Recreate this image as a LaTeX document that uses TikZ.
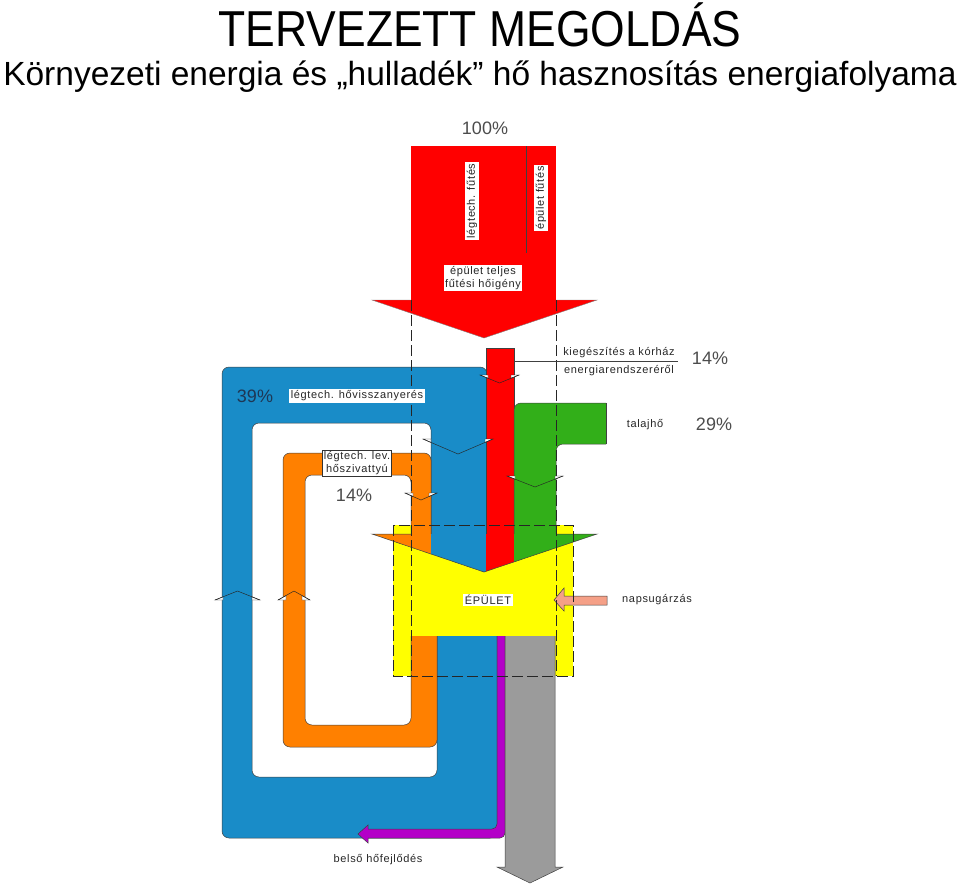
\documentclass[tikz,border=0pt]{standalone}
\usepackage{fontspec}
\setmainfont{Liberation Sans}
\newfontfamily\cadfont[LetterSpace=6.0]{Liberation Sans}
\definecolor{cblue}{RGB}{25,140,200}
\definecolor{corange}{RGB}{255,128,0}
\definecolor{cred}{RGB}{255,0,0}
\definecolor{cgreen}{RGB}{50,175,25}
\definecolor{cyel}{RGB}{255,255,0}
\definecolor{cgray}{RGB}{155,155,155}
\definecolor{cpurple}{RGB}{180,0,200}
\definecolor{csalmon}{RGB}{245,160,135}
\definecolor{cnavy}{RGB}{30,55,85}
\newcommand\chevmark[4]{%
  \pgfmathsetmacro\chxm{(#1+#2)/2}%
  \pgfmathsetmacro\chya{#3+#4*8/(\chxm-#1)}%
  \filldraw[chv, fill=white] (#1,#3) -- ({#1+8},#3) -- ({#1+8},\chya) -- cycle;
  \filldraw[chv, fill=white] (#2,#3) -- ({#2-8},#3) -- ({#2-8},\chya) -- cycle;
  \draw[chv] (#1,#3) -- (\chxm,{#3+#4}) -- (#2,#3);
}
\begin{document}
\begin{tikzpicture}[x=1pt,y=-1pt,
  band/.style={draw=black!75, line width=0.5pt},
  lbl/.style={font=\cadfont\fontsize{11}{13}\selectfont, text=black!85, inner sep=1.5pt, align=center},
  wbox/.style={lbl, fill=white},
  pct/.style={font=\fontsize{18}{18}\selectfont, text=black!70},
  dsh/.style={draw=black!85, line width=0.6pt, dash pattern=on 11pt off 4pt},
  chv/.style={draw=black!85, line width=0.45pt}]
\useasboundingbox (0,0) rectangle (960,892);

% titles
\node[font=\fontsize{50.5}{50}\selectfont, anchor=base] (title) at (480,46) {\scalebox{0.88}[1]{TERVEZETT MEGOLDÁS}};
\node[font=\fontsize{33.5}{34}\selectfont, anchor=base] (sub) at (480,85) {Környezeti energia és „hulladék” hő hasznosítás energiafolyama};

% building (yellow base)
\fill[cyel] (393,525) rectangle (573,676);

% blue loop
\filldraw[fill=cblue, band, rounded corners=7pt] (431,560) -- (431,423) -- (252,423) -- (252,777) -- (437,777) -- (437,600) -- (497,600) -- (497,838) -- (222,838) -- (222,367) -- (487,367) -- (487,560) -- cycle;
% orange loop
\filldraw[fill=corange, band, rounded corners=7pt] (411,560) -- (411,475) -- (305,475) -- (305,725) -- (411,725) -- (411,600) -- (437,600) -- (437,747) -- (283,747) -- (283,453) -- (431,453) -- (431,560) -- cycle;
% red column
\filldraw[fill=cred, band] (486,348) rectangle (514,560);
% green
\begin{scope}
  \clip (500,390) rectangle (606.2,570);
  \filldraw[fill=cgreen, band, rounded corners=7pt] (514,560) -- (514,403) -- (630,403) -- (630,444) -- (556,444) -- (556,560) -- cycle;
\end{scope}
\draw[band] (606,403) -- (606,444);

% purple
\filldraw[fill=cpurple, band, rounded corners=5pt] (497,620) -- (497,829) -- (363,829) -- (363,838) -- (505,838) -- (505,620) -- cycle;
\fill[cpurple] (368,825) -- (358,834) -- (368,843) -- cycle;
\draw[band] (368,829) -- (368,825) -- (358,834) -- (368,843) -- (368,838);
% gray
\filldraw[fill=cgray, band] (505,620) -- (505,867) -- (497,867) -- (530,883) -- (563,867) -- (555,867) -- (555,620);

% building body
\fill[cyel] (393,534) rectangle (573,636);

% merged wedge
\begin{scope}
  \clip (372,534) -- (597,534) -- (484,572) -- cycle;
  \fill[corange] (360,520) rectangle (431,580);
  \fill[cblue] (431,520) rectangle (486,580);
  \fill[cred] (486,520) rectangle (514,580);
  \fill[cgreen] (514,520) rectangle (600,580);
\end{scope}
\draw[band] (411,534) -- (372,534) -- (484,572) -- (597,534) -- (556,534);

% top red arrow
\fill[cred] (411,146) rectangle (556,300);
\fill[cred] (372,300) -- (597,300) -- (484,338) -- cycle;
\draw[black!50, line width=0.4pt] (411,300) -- (372,300) -- (484,338) -- (597,300) -- (556,300);
\draw[black!75, line width=0.5pt] (526,146) -- (526,253);

% sun arrow
\filldraw[fill=csalmon, band] (607,596) -- (564,596) -- (564,588) -- (554,600) -- (564,611) -- (564,605) -- (607,605) -- cycle;

% dashed boundaries
\draw[dsh] (411,300) -- (411,676);
\draw[dsh] (556,300) -- (556,676);
\draw[dsh] (393,525) rectangle (573,676);

% leader line
\coordinate (leadA) at (514,361);
\coordinate (leadB) at (678,361);
\draw[black!75, line width=0.6pt] (leadA) -- (leadB);

% chevrons
\chevmark{480}{519}{375}{8}
\chevmark{423}{493}{439}{15}
\chevmark{507}{563}{476}{11}
\chevmark{405}{437}{493}{7}
\chevmark{215}{260}{600}{-9}
\chevmark{278}{310}{600}{-9}

% labels
\node[pct] (p100) at (485,128) {100\%};
\node[wbox, rotate=90] (lfut) at (472,201) {légtech. fűtés};
\node[wbox, rotate=90] (efut) at (541,198) {épület fűtés};
\node[wbox] (teljes) at (483,278) {épület teljes\\fűtési hőigény};
\node[lbl, anchor=base] (kieg) at (619,355) {kiegészítés a kórház};
\node[lbl, anchor=base] (ener) at (619,373) {energiarendszeréről};
\node[pct] (p14a) at (710,358) {14\%};
\node[lbl] (talaj) at (645,425) {talajhő};
\node[pct] (p29) at (714,424) {29\%};
\node[pct, text=cnavy] (p39) at (255,396) {39\%};
\node[wbox] (hovissz) at (357,396) {légtech. hővisszanyerés};
\node[wbox, draw=black!80, line width=0.5pt] (hosziv) at (357,463) {légtech. lev.\\hőszivattyú};
\node[pct] (p14b) at (354,495) {14\%};
\node[wbox] (epulet) at (488,600) {ÉPÜLET};
\node[lbl] (napsug) at (657,600) {napsugárzás};
\node[lbl] (belso) at (378,860) {belső hőfejlődés};
\end{tikzpicture}
\end{document}
